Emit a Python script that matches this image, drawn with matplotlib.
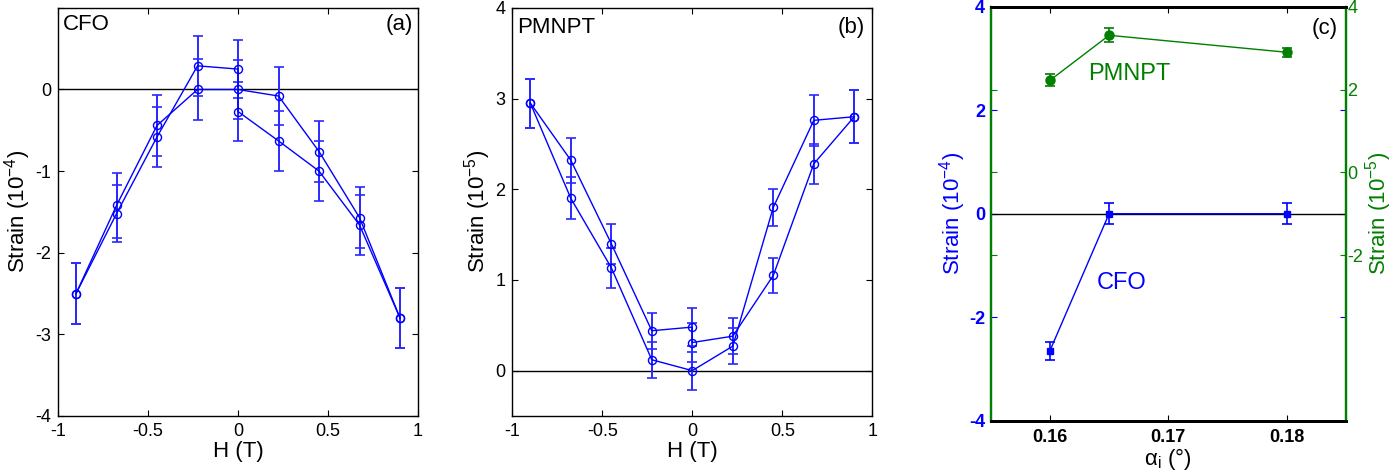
import matplotlib
matplotlib.use("Agg")
import matplotlib.pyplot as plt
import numpy as np

plt.rcParams['font.family'] = ['Liberation Sans', 'DejaVu Sans']
plt.rcParams['mathtext.fontset'] = 'custom'
plt.rcParams['mathtext.rm'] = 'Liberation Sans'
plt.rcParams['mathtext.it'] = 'Liberation Sans:italic'
plt.rcParams['axes.unicode_minus'] = False

# ---------------- data ----------------
# (a) CFO strain (1e-4) vs H (T)
a_x1 = [-0.9, -0.675, -0.45, -0.225, 0.0, 0.225, 0.45, 0.675, 0.9]
a_y1 = [-2.5, -1.42, -0.44, 0.0, 0.0, -0.08, -0.76, -1.57, -2.8]
a_e1 = [0.37, 0.40, 0.37, 0.37, 0.36, 0.36, 0.37, 0.37, 0.37]
a_x2 = [-0.9, -0.675, -0.45, -0.225, 0.0, 0.0, 0.225, 0.45, 0.675, 0.9]
a_y2 = [-2.5, -1.52, -0.58, 0.29, 0.25, -0.27, -0.63, -1.0, -1.66, -2.8]
a_e2 = [0.37, 0.35, 0.37, 0.37, 0.36, 0.36, 0.37, 0.37, 0.37, 0.37]

# (b) PMNPT strain (1e-5) vs H (T)
b_x1 = [-0.9, -0.675, -0.45, -0.225, 0.0, 0.0, 0.225, 0.45, 0.675, 0.9]
b_y1 = [2.95, 2.32, 1.40, 0.44, 0.48, 0.31, 0.38, 1.05, 2.28, 2.80]
b_e1 = [0.27, 0.25, 0.22, 0.20, 0.21, 0.21, 0.20, 0.19, 0.22, 0.29]
b_x2 = [-0.9, -0.675, -0.45, -0.225, 0.0, 0.225, 0.45, 0.675, 0.9]
b_y2 = [2.95, 1.90, 1.135, 0.12, 0.0, 0.27, 1.80, 2.76, 2.80]
b_e2 = [0.27, 0.23, 0.22, 0.20, 0.21, 0.20, 0.20, 0.28, 0.29]

# (c) strain vs incidence angle
c_alpha = [0.16, 0.165, 0.18]
c_cfo = [-2.65, 0.0, 0.0]
c_cfo_err = [0.18, 0.20, 0.20]
c_pmnpt = [2.22, 3.31, 2.90]
c_pmnpt_err = [0.145, 0.165, 0.11]

H_ticks = [-1, -0.5, 0, 0.5, 1]
H_ticklabels = ['-1', '-0.5', '0', '0.5', '1']

BLUE = '#0000ff'
EBLUE = '#2a2aff'
GREEN = '#007f00'

TICK_FS = 13
LABEL_FS = 16

fig = plt.figure(figsize=(13.99, 4.74), dpi=100)

def style_ax(ax):
    ax.tick_params(direction='in', length=4, width=0.8, top=True, right=True,
                   labelsize=TICK_FS, pad=5)
    for s in ax.spines.values():
        s.set_linewidth(1.0)

def draw_branch(ax, x, y, e):
    ax.errorbar(x, y, yerr=e, fmt='none', ecolor=EBLUE, elinewidth=1.4,
                capsize=3.5, capthick=1.2, zorder=3)
    ax.plot(x, y, '-o', color=BLUE, lw=1.0, ms=5.8, mfc='none', mew=1.0, zorder=4)

# ---- (a)
axa = fig.add_axes([0.0415, 0.1224, 0.2573, 0.861])
style_ax(axa)
axa.axhline(0, color='black', lw=1.0, zorder=2)
draw_branch(axa, a_x1, a_y1, a_e1)
draw_branch(axa, a_x2, a_y2, a_e2)
axa.set_xlim(-1, 1)
axa.set_ylim(-4, 1)
axa.set_xticks(H_ticks)
axa.set_xticklabels(H_ticklabels)
axa.set_yticks([-4, -3, -2, -1, 0, 1])
axa.set_yticklabels(['-4', '-3', '-2', '-1', '0', ''])
axa.set_xlabel('H (T)', fontsize=LABEL_FS, labelpad=1)
axa.set_ylabel(r'Strain (10$^{-4}$)', fontsize=LABEL_FS)
axa.yaxis.set_label_coords(-0.069, 0.5)
axa.text(0.014, 0.96, 'CFO', transform=axa.transAxes, fontsize=LABEL_FS, ha='left', va='center')
axa.text(0.986, 0.96, '(a)', transform=axa.transAxes, fontsize=LABEL_FS, ha='right', va='center')

# ---- (b)
axb = fig.add_axes([0.3662, 0.1224, 0.2573, 0.861])
style_ax(axb)
axb.axhline(0, color='black', lw=1.0, zorder=2)
draw_branch(axb, b_x1, b_y1, b_e1)
draw_branch(axb, b_x2, b_y2, b_e2)
axb.set_xlim(-1, 1)
axb.set_ylim(-0.5, 4)
axb.set_xticks(H_ticks)
axb.set_xticklabels(H_ticklabels)
axb.set_yticks([0, 1, 2, 3, 4])
axb.set_xlabel('H (T)', fontsize=LABEL_FS, labelpad=1)
axb.set_ylabel(r'Strain (10$^{-5}$)', fontsize=LABEL_FS)
axb.yaxis.set_label_coords(-0.054, 0.5)
axb.text(0.013, 0.953, 'PMNPT', transform=axb.transAxes, fontsize=LABEL_FS, ha='left', va='center')
axb.text(0.98, 0.953, '(b)', transform=axb.transAxes, fontsize=LABEL_FS, ha='right', va='center')

# ---- (c)
axc = fig.add_axes([0.7081, 0.1124, 0.254, 0.8734])
axc2 = axc.twinx()
axc.set_xlim(0.155, 0.185)
axc.set_ylim(-4, 4)
axc2.set_ylim(-6, 4)
axc.axhline(0, color='black', lw=1.0, zorder=2)
axc.errorbar(c_alpha, c_cfo, yerr=c_cfo_err, fmt='none', ecolor=BLUE,
             elinewidth=1.2, capsize=3.5, capthick=1.2, zorder=3)
axc.plot(c_alpha, c_cfo, '-s', color=BLUE, lw=1.0, ms=5, zorder=4)
axc2.errorbar(c_alpha, c_pmnpt, yerr=c_pmnpt_err, fmt='none', ecolor=GREEN,
              elinewidth=1.2, capsize=3.5, capthick=1.2, zorder=3)
axc2.plot(c_alpha, c_pmnpt, '-o', color=GREEN, lw=1.0, ms=6.5, zorder=4)

axc.set_xticks([0.16, 0.17, 0.18])
axc.set_xticklabels(['0.16', '0.17', '0.18'], fontweight='bold')
axc.set_yticks([-4, -2, 0, 2, 4])
axc.set_yticklabels(['-4', '-2', '0', '2', '4'])
axc.tick_params(axis='x', direction='in', length=4, width=0.8, top=True,
                labelsize=TICK_FS, pad=6)
axc.tick_params(axis='y', direction='in', length=4, width=0.8, right=True,
                labelsize=TICK_FS, colors=BLUE, pad=4)
for lab in axc.get_yticklabels():
    lab.set_fontweight('bold')
axc2.set_yticks([-2, 0, 2, 4])
axc2.set_yticklabels(['-2', '0', '2', '4'])
axc2.tick_params(axis='y', direction='in', length=4, width=0.8, left=True,
                 labelsize=TICK_FS, colors=GREEN, pad=1)
for ax in (axc, axc2):
    ax.spines['top'].set_linewidth(2.0)
    ax.spines['bottom'].set_linewidth(2.0)
    ax.spines['top'].set_color('black')
    ax.spines['bottom'].set_color('black')
    ax.spines['left'].set_color(GREEN)
    ax.spines['right'].set_color(GREEN)
    ax.spines['left'].set_linewidth(1.6)
    ax.spines['right'].set_linewidth(1.6)

axc.set_xlabel(r'α$_{\rm i}$ (°)', fontsize=LABEL_FS, labelpad=0)
axc.set_ylabel(r'Strain (10$^{-4}$)', fontsize=LABEL_FS, color=BLUE)
axc.yaxis.set_label_coords(-0.064, 0.5)
axc2.set_ylabel(r'Strain (10$^{-5}$)', fontsize=LABEL_FS, color=GREEN)
axc2.yaxis.set_label_coords(1.048, 0.5)
axc.text(0.1632, 2.70, 'PMNPT', fontsize=17, color=GREEN, ha='left', va='center')
axc.text(0.164, -1.34, 'CFO', fontsize=17, color=BLUE, ha='left', va='center')
axc.text(0.978, 0.948, '(c)', transform=axc.transAxes, fontsize=LABEL_FS, ha='right', va='center')

fig.savefig('out.png', dpi=100)
